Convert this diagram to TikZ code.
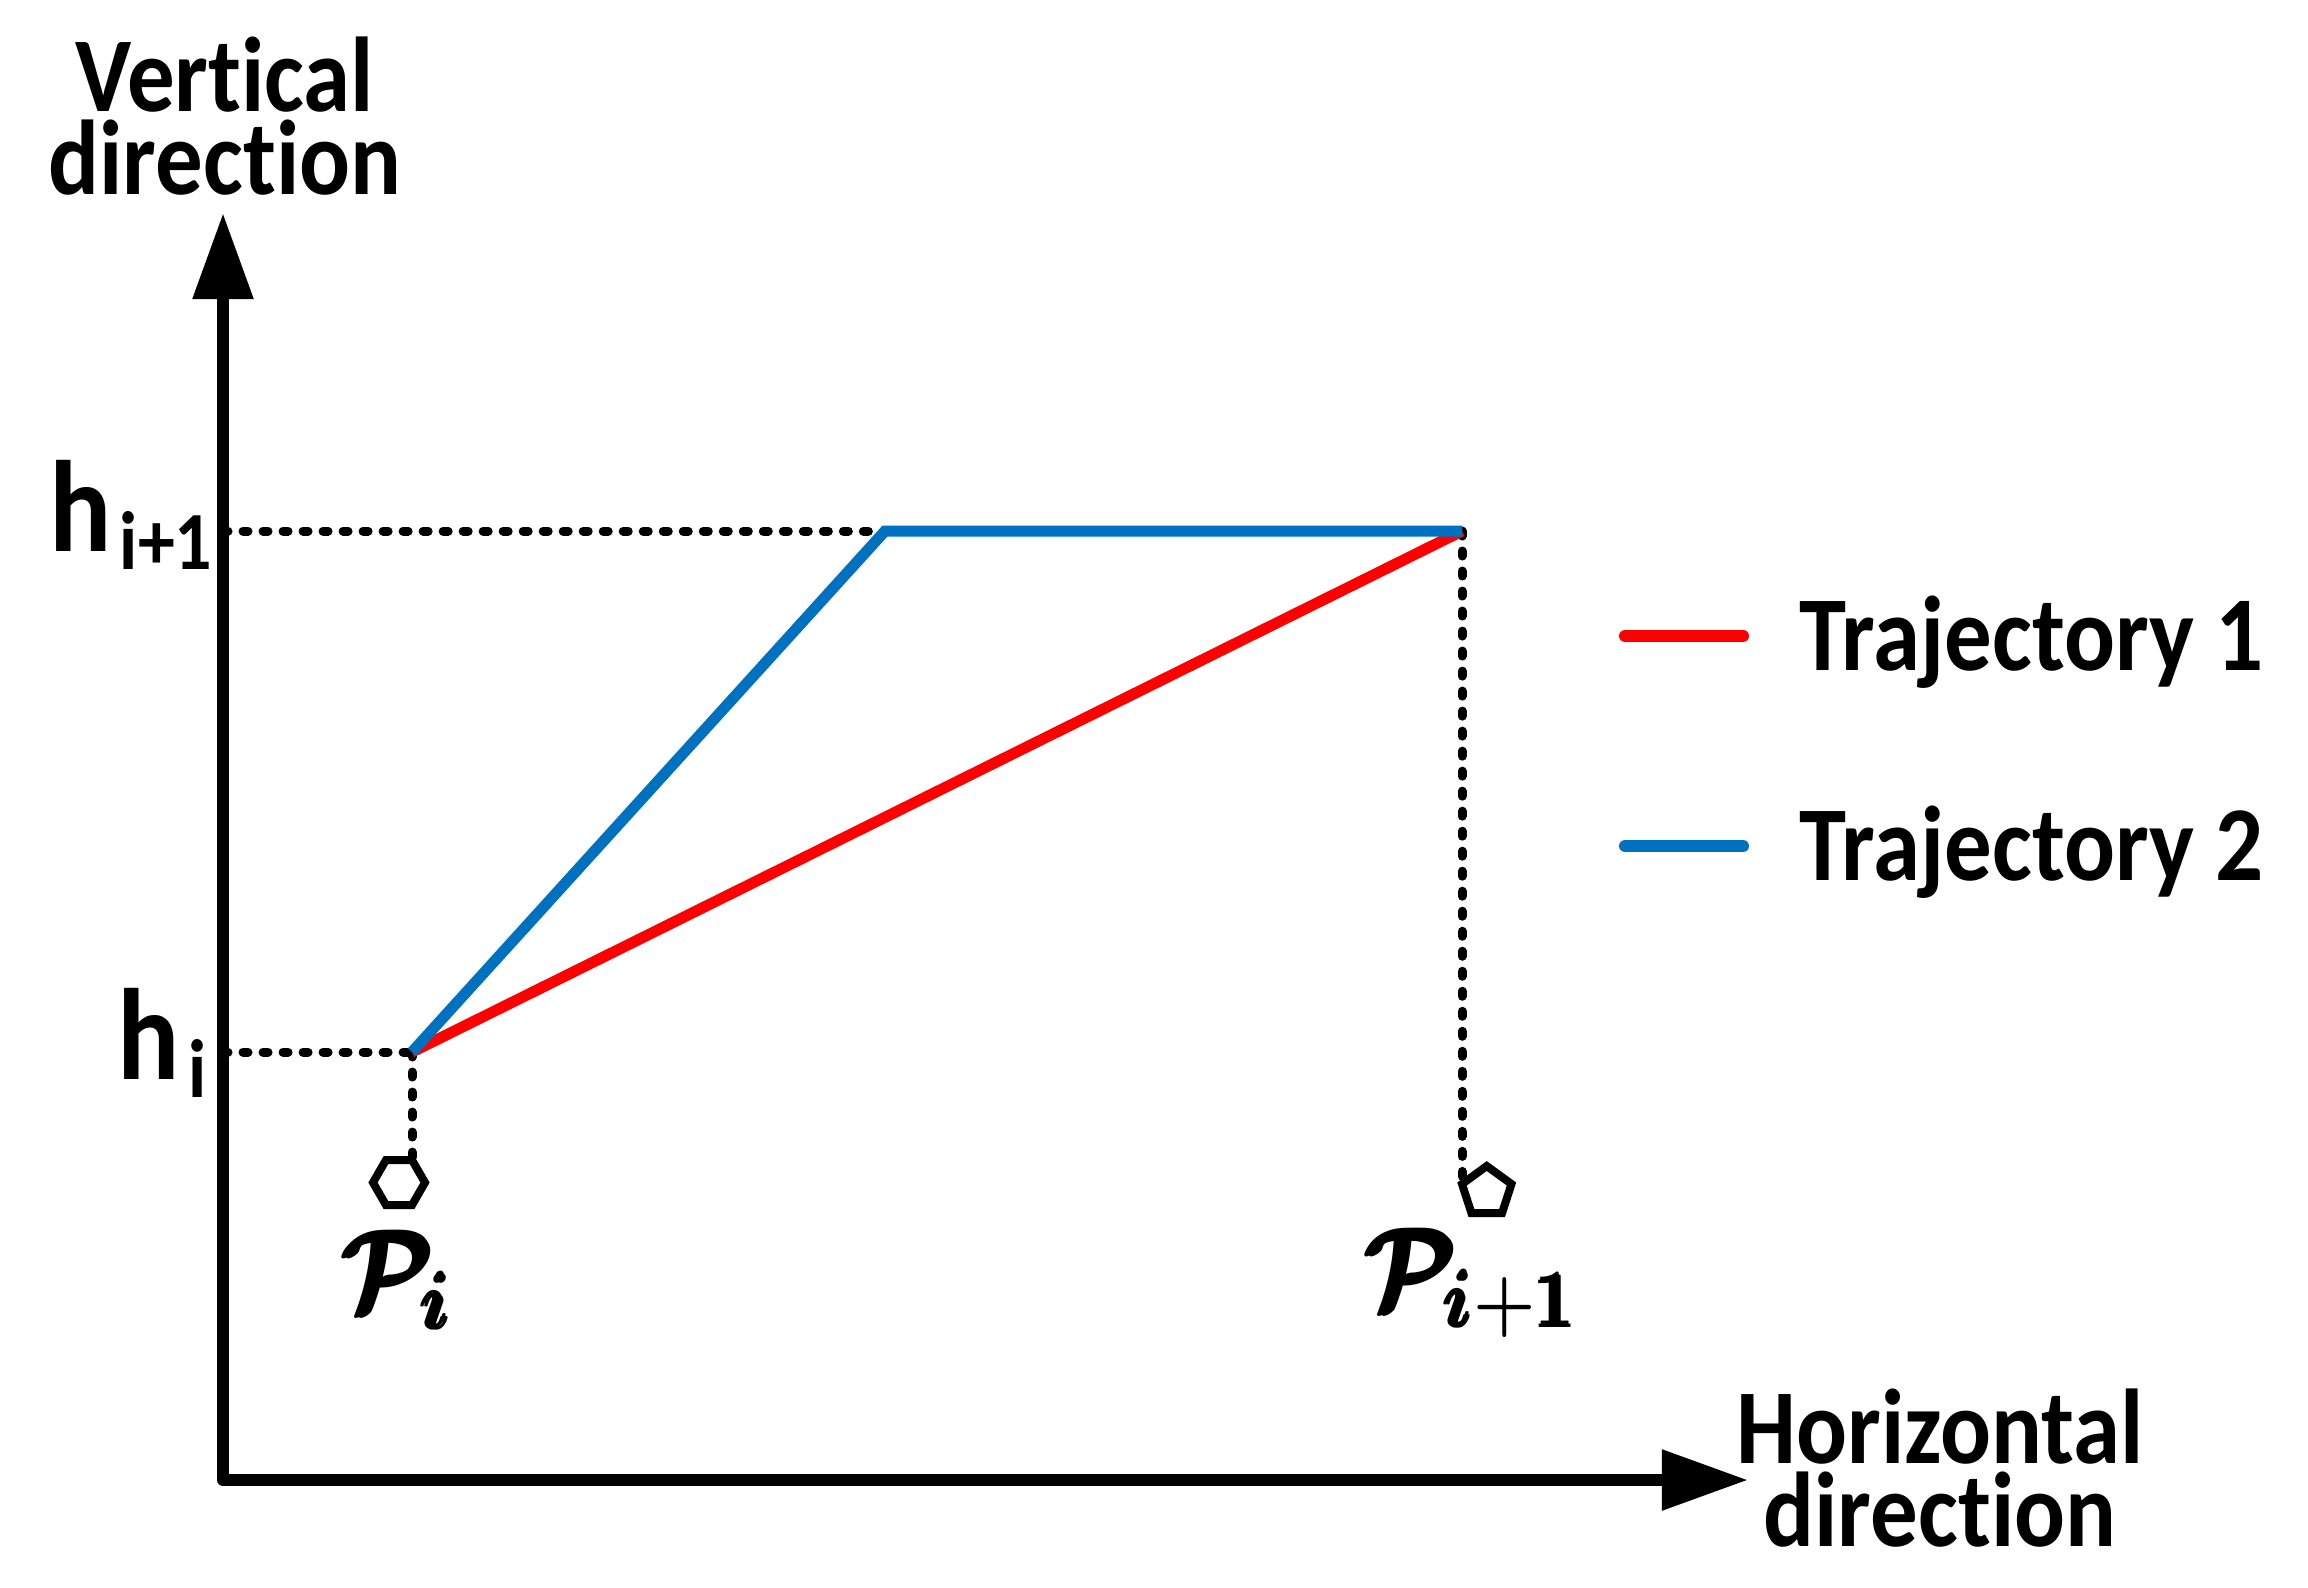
\RequirePackage{fix-cm}
\documentclass[tikz,border=0pt]{standalone}
\usepackage{amsmath}
\usepackage{fontspec}
\setmainfont{Carlito}[Ligatures={NoCommon}]
\usetikzlibrary{arrows.meta,positioning,shapes.geometric,calc}
\definecolor{trajred}{RGB}{255,0,0}
\definecolor{trajblue}{RGB}{0,112,192}
\newcommand{\tallbox}[1]{\scalebox{1}[1.12]{#1}}
\tikzset{
    axisline/.style={draw, line width=0.12cm, line join=round, {Triangle[length=0.86cm,width=0.58cm]}-{Triangle[length=0.86cm,width=0.58cm]}},
    guide/.style={draw, line width=0.09cm, line cap=round, dash pattern=on 0.05cm off 0.15cm},
    trajone/.style={draw, trajred, line width=0.11cm},
    trajtwo/.style={draw, trajblue, line width=0.11cm},
    legline/.style={draw, line width=0.12cm, line cap=round},
    axislabel/.style={font=\fontsize{27}{23.6}\selectfont\bfseries, align=center, inner sep=0pt},
    legtext/.style={font=\fontsize{27}{30}\selectfont\bfseries, inner sep=0pt},
    hlabel/.style={font=\fontsize{33}{34}\selectfont\bfseries, inner sep=0pt},
    plabel/.style={font=\fontsize{29}{32}\selectfont, inner sep=0pt},
    marker/.style={draw, line width=0.08cm, regular polygon, minimum size=0.52cm, inner sep=0pt, outer sep=0pt}
}

\begin{document}
\begin{tikzpicture}[x=0.01cm, y=-0.01cm]
    \useasboundingbox (0,0) rectangle (2308,1587);

    % Points
    \coordinate (origin) at (223,1480);
    \coordinate (ytip) at (223,213);
    \coordinate (xtip) at (1748,1480);
    \coordinate (pi) at (412,1052);
    \coordinate (bend) at (885,531);
    \coordinate (pnext) at (1462,531);
    \coordinate (hiaxis) at (origin |- pi);
    \coordinate (hnaxis) at (origin |- pnext);

    % Axes
    \draw [axisline] (ytip) -- (origin) -- (xtip);
    \node [axislabel] (vlabel) at (225,116) {\tallbox{Vertical}\\\tallbox{direction}};
    \node [axislabel] (hzlabel) at (1940,1468) {\tallbox{Horizontal}\\\tallbox{direction}};

    % Heights
    \node [hlabel, anchor=base east] (hnext) at (213,551) {\tallbox{h}\hspace{0.08cm}\raisebox{-0.18cm}{\fontsize{21}{21}\selectfont\tallbox{i+1}}};
    \node [hlabel, anchor=base east] (hi) at (207,1079) {\tallbox{h}\hspace{0.08cm}\raisebox{-0.18cm}{\fontsize{21}{21}\selectfont\tallbox{i}}};
    \draw [guide] (hnaxis) -- (bend);
    \draw [guide] (hiaxis) -- (pi);

    % Waypoints
    \node [marker, regular polygon sides=6, anchor=60] (hexa) at ($(pi)+(0,108)$) {};
    \node [marker, regular polygon sides=5, anchor=162] (penta) at ($(pnext)+(0,653)$) {};
    \draw [guide] (pi) -- (hexa.60);
    \draw [guide] (pnext) -- (penta.162);
    \node [plabel, below=0.24cm of hexa] (plabi) {\tallbox{\boldmath$\pmb{\mathcal{P}}_{\!\pmb{i}}$}};
    \node [plabel, below=0.14cm of penta, xshift=-0.14cm] (plabnext) {\tallbox{\boldmath$\pmb{\mathcal{P}}_{\!\pmb{i}{+}\pmb{1}}$}};

    % Trajectories
    \draw [trajone] (pi) -- (pnext);
    \draw [trajtwo] (pi) -- (bend) -- (pnext);

    % Legend
    \node [legtext, anchor=base west] (legone) at (1799,670) {\tallbox{Trajectory 1}};
    \node [legtext, anchor=base west] (legtwo) at (1799,880) {\tallbox{Trajectory 2}};
    \draw [legline, trajred] ($(legone.base west)+(-174,-34)$) -- ++(118,0);
    \draw [legline, trajblue] ($(legtwo.base west)+(-174,-34)$) -- ++(118,0);
\end{tikzpicture}
\end{document}
